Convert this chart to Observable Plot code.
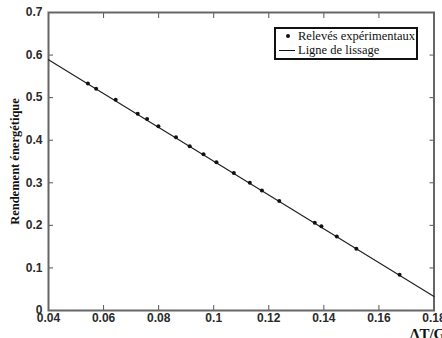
<!DOCTYPE html>
<html>
<head>
<meta charset="utf-8">
<script src="https://cdn.jsdelivr.net/npm/d3@7"></script>
<script src="https://cdn.jsdelivr.net/npm/@observablehq/plot@0.6"></script>
<style>
  html, body { margin: 0; padding: 0; background: #fff; overflow: hidden; }
  #wrap { position: relative; width: 442px; height: 338px; }
  #legend {
    position: absolute; left: 274px; top: 27px; width: 140px; height: 29px;
    border: 2px solid #111; background: #fff;
    font-family: "Liberation Serif", "Times New Roman", serif; font-size: 12.5px; color: #111;
  }
  #legend .row { position: absolute; left: 0; height: 14px; line-height: 14px; white-space: nowrap; }
  #legend .sym { display: inline-block; width: 22px; position: relative; height: 14px; vertical-align: top; }
</style>
</head>
<body>
<div id="wrap">
  <div id="legend">
    <div class="row" style="top:0px"><span class="sym"><span style="position:absolute;left:10px;top:5px;width:4px;height:4px;border-radius:2px;background:#111"></span></span>Relevés expérimentaux</div>
    <div class="row" style="top:14px"><span class="sym"><span style="position:absolute;left:3px;top:7px;width:16px;height:1.2px;background:#111"></span></span>Ligne de lissage</div>
  </div>
</div>
<script>
// Measured points
const ratioDTG = [0.0543, 0.0573, 0.0644, 0.0724, 0.0758, 0.0799, 0.0863, 0.0913, 0.0963, 0.1010,
                  0.1073, 0.1131, 0.1175, 0.1238, 0.1367, 0.1391, 0.1447, 0.1518, 0.1675];
const rendement = [0.533, 0.521, 0.495, 0.462, 0.450, 0.433, 0.407, 0.386, 0.367, 0.348,
                   0.323, 0.300, 0.282, 0.257, 0.206, 0.198, 0.174, 0.145, 0.084];
// Fitted line endpoints
const fitX = [0.04, 0.18];
const fitY = [0.589, 0.033];
// Ticks
const xTicks = [0.04, 0.06, 0.08, 0.1, 0.12, 0.14, 0.16, 0.18];
const yTicks = [0, 0.1, 0.2, 0.3, 0.4, 0.5, 0.6, 0.7];

const points = ratioDTG.map((x, i) => ({x, y: rendement[i]}));
const fit = fitX.map((x, i) => ({x, y: fitY[i]}));

const tickFont = {fontFamily: "'Liberation Sans', Arial, sans-serif", fontWeight: "bold", fontSize: 12, fill: "#2a2a2a"};

const chart = Plot.plot({
  width: 442,
  height: 338,
  marginLeft: 48,
  marginRight: 8.5,
  marginTop: 12,
  marginBottom: 28,
  style: {background: "transparent", overflow: "visible"},
  x: {domain: [0.04, 0.18]},
  y: {domain: [0, 0.7]},
  marks: [
    Plot.axisX(xTicks, {anchor: "bottom", tickSize: -5, tickPadding: 8, stroke: "#555", label: null, tickFormat: d3.format("~g"), ...tickFont}),
    Plot.axisX(xTicks, {anchor: "top", tickSize: -5, stroke: "#555", label: null, tickFormat: () => ""}),
    Plot.axisY(yTicks, {anchor: "left", tickSize: -5, tickPadding: 11, stroke: "#555", tickFormat: d3.format("~g"), ...tickFont,
      label: "Rendement énergétique", labelAnchor: "center", labelArrow: "none", labelOffset: 38}),
    Plot.axisY(yTicks, {anchor: "right", tickSize: -5, stroke: "#555", label: null, tickFormat: () => ""}),
    Plot.frame({stroke: "#666", strokeWidth: 2}),
    Plot.line(fit, {x: "x", y: "y", stroke: "#222", strokeWidth: 1.2}),
    Plot.dot(points, {x: "x", y: "y", r: 2, fill: "#111", stroke: "none"}),
    Plot.text(["ΔT/G"], {frameAnchor: "bottom-right", textAnchor: "start", lineAnchor: "bottom", dx: -24, dy: 28,
      fontFamily: "'Liberation Serif', 'Times New Roman', serif", fontWeight: "bold", fontSize: 15, fill: "#111"})
  ]
});
const wrap = document.getElementById("wrap");
wrap.insertBefore(chart, wrap.firstChild);
// style the y-axis label (serif bold)
d3.select(chart).selectAll("g[aria-label='y-axis label'] text, g[aria-label='y-axis label']")
  .attr("font-family", "'Liberation Serif', 'Times New Roman', serif")
  .attr("font-size", 12.5).attr("font-weight", "bold").attr("fill", "#111");
</script>
</body>
</html>
